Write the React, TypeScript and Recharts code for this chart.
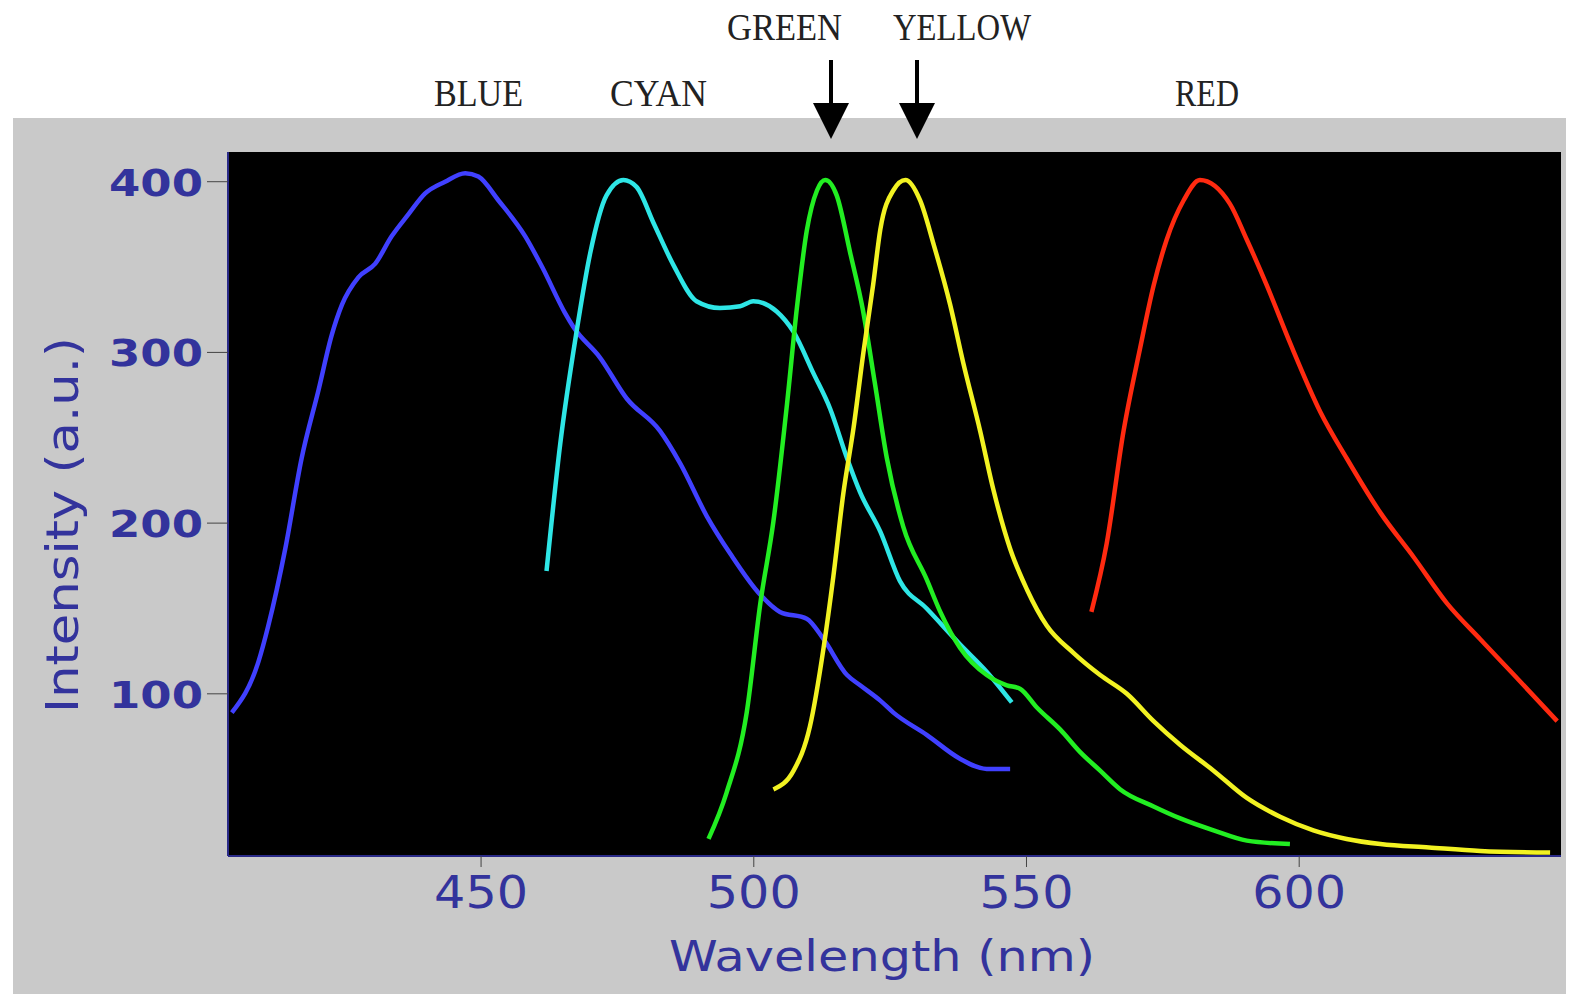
import React from 'react';
import { LineChart, Line, XAxis, YAxis, CartesianGrid } from 'recharts';

// emission spectra (nm, intensity a.u.)
const BLUE_NM = [404.3, 409.2, 411, 414.1, 417.1, 420.2, 422.6, 424.5, 427.5, 430.6, 433.6, 436.7, 439.7, 443.4, 447.1, 449.5, 453.2, 458.1, 461.2, 465.4, 466.9, 471.8, 476.7, 482.8, 486.5, 491.4, 495.7, 501.2, 504.8, 509.7, 512.8, 517.1, 519.5, 523.2, 525.6, 531.7, 537.8, 542.7, 547];
const BLUE_I = [89, 119, 140, 185, 238, 278, 310, 328, 344, 352, 368, 381, 393, 400, 405, 403, 389, 368, 350, 323, 315, 297, 273, 254, 235, 204, 182, 158, 148, 144, 132, 111, 105, 96, 89, 76, 62, 56, 56];

const CYAN_NM = [462, 464.5, 467.5, 470, 473, 476.1, 478.5, 481.6, 485.3, 489.5, 493.8, 497.5, 499.9, 504.2, 507.3, 510.9, 514, 517.1, 519.5, 523.2, 526.8, 531.7, 537.8, 542.7, 547.3];
const CYAN_I = [172, 246, 312, 358, 392, 401, 397, 376, 351, 330, 326, 327, 330, 324, 312, 288, 267, 238, 218, 195, 166, 150, 129, 113, 95];

const GREEN_NM = [491.7, 495, 498.7, 501.2, 503.6, 506.1, 507.9, 509.7, 511.6, 513.1, 515.2, 517.7, 520, 522.2, 524.4, 527.4, 531.7, 534.2, 537.8, 542.7, 546.4, 548.8, 551.9, 556.2, 559.8, 563.5, 567.2, 573.3, 578.2, 584.3, 590.4, 598.3];
const GREEN_I = [15, 42, 89, 153, 201, 270, 326, 371, 395, 401, 392, 358, 325, 282, 238, 198, 167, 148, 127, 111, 105, 103, 92, 79, 66, 55, 44, 34, 27, 20, 14, 12];

const YELLOW_NM = [503.6, 507.3, 510.3, 512.8, 514.6, 516.4, 518.3, 520.1, 521.9, 523.2, 525.6, 527.8, 530.5, 533, 536, 538.4, 541.5, 543.9, 547, 550.1, 553.7, 558.6, 563.5, 568.4, 573.3, 578.2, 584.3, 590.4, 596.5, 602.6, 608.7, 614.9, 623.8, 633.2, 646];
const YELLOW_I = [44, 55, 81, 127, 169, 217, 256, 300, 340, 372, 395, 401, 389, 363, 328, 294, 254, 220, 185, 161, 140, 124, 111, 100, 84, 70, 55, 39, 28, 20, 15, 12, 10, 8, 7];

const RED_NM = [561.9, 564.7, 567.8, 570.8, 573.3, 575.7, 578.8, 581.8, 587.3, 590.4, 594.1, 598.4, 603.9, 608.7, 614.9, 621, 627.1, 633.2, 639.4, 647.3];
const RED_I = [148, 188, 254, 302, 339, 366, 389, 401, 387, 366, 339, 305, 265, 238, 206, 180, 153, 132, 111, 84];

const X_TICKS = [450, 500, 550, 600];
const Y_TICKS = [100, 200, 300, 400];

const toPoints = (nm: number[], v: number[]) => nm.map((x, i) => ({ nm: x, v: v[i] }));

const SERIES = [
  { name: 'BLUE', color: '#4040ff', data: toPoints(BLUE_NM, BLUE_I) },
  { name: 'CYAN', color: '#2ee6e6', data: toPoints(CYAN_NM, CYAN_I) },
  { name: 'GREEN', color: '#22ee22', data: toPoints(GREEN_NM, GREEN_I) },
  { name: 'YELLOW', color: '#f2f222', data: toPoints(YELLOW_NM, YELLOW_I) },
  { name: 'RED', color: '#ff2a10', data: toPoints(RED_NM, RED_I) },
];

const NAVY = '#33339c';

const YTick = (props: any) => {
  const { x, y, payload } = props;
  return (
    <text x={x} y={y + 14} textAnchor="end" fill={NAVY} fontFamily="DejaVu Sans" fontWeight="bold"
      fontSize={38} textLength={94} lengthAdjust="spacingAndGlyphs">
      {payload.value}
    </text>
  );
};

const XTick = (props: any) => {
  const { x, y, payload } = props;
  return (
    <text x={x} y={y + 39} textAnchor="middle" fill={NAVY} fontFamily="DejaVu Sans"
      fontSize={45} textLength={94} lengthAdjust="spacingAndGlyphs">
      {payload.value}
    </text>
  );
};

const Arrow = ({ x }: { x: number }) => (
  <g>
    <line x1={x} y1={60} x2={x} y2={108} stroke="#000" strokeWidth={4} />
    <polygon points={`${x - 18},103 ${x + 18},103 ${x},139`} fill="#000" />
  </g>
);

const topLabel = { fontFamily: 'Liberation Serif', fontSize: 38, fill: '#222' };

export default function App() {
  return (
    <div style={{ position: 'absolute', left: 0, top: 0, width: 1575, height: 994, background: '#fff', overflow: 'hidden' }}>
      <div style={{ position: 'absolute', left: 13, top: 118, width: 1553, height: 876, background: '#c9c9c9' }} />
      <div style={{ position: 'absolute', left: 0, top: 0 }}>
        <LineChart width={1575} height={994} margin={{ top: 152, right: 14, bottom: 0, left: 0 }}>
          <CartesianGrid fill="#000" horizontal={false} vertical={false} />
          <XAxis type="number" dataKey="nm" domain={[403.6, 648]} ticks={X_TICKS} allowDataOverflow
            height={138} tickSize={11} tickMargin={2} tick={<XTick />}
            axisLine={{ stroke: '#2a2a88', strokeWidth: 2 }} tickLine={{ stroke: '#444' }} />
          <YAxis type="number" domain={[5, 417.4]} ticks={Y_TICKS} allowDataOverflow
            width={228} tickSize={21} tickMargin={4} tick={<YTick />}
            axisLine={{ stroke: '#2a2a88', strokeWidth: 2 }} tickLine={{ stroke: '#444' }} />
          {SERIES.map((s) => (
            <Line key={s.name} data={s.data} dataKey="v" type="monotone" stroke={s.color}
              strokeWidth={4.5} dot={false} isAnimationActive={false} />
          ))}
        </LineChart>
      </div>
      <svg width={1575} height={994} style={{ position: 'absolute', left: 0, top: 0, pointerEvents: 'none' }}>
        <text x={434} y={106} textLength={89} lengthAdjust="spacingAndGlyphs" {...topLabel}>BLUE</text>
        <text x={610} y={106} textLength={97} lengthAdjust="spacingAndGlyphs" {...topLabel}>CYAN</text>
        <text x={727} y={40} textLength={115} lengthAdjust="spacingAndGlyphs" {...topLabel}>GREEN</text>
        <text x={893} y={40} textLength={138} lengthAdjust="spacingAndGlyphs" {...topLabel}>YELLOW</text>
        <text x={1175} y={106} textLength={64} lengthAdjust="spacingAndGlyphs" {...topLabel}>RED</text>
        <Arrow x={831} />
        <Arrow x={917} />
        <text transform="translate(78,525) rotate(-90)" textAnchor="middle" fill={NAVY} fontFamily="DejaVu Sans"
          fontSize={45} textLength={376} lengthAdjust="spacingAndGlyphs">Intensity (a.u.)</text>
        <text x={882} y={971} textAnchor="middle" fill={NAVY} fontFamily="DejaVu Sans"
          fontSize={42} textLength={426} lengthAdjust="spacingAndGlyphs">Wavelength (nm)</text>
      </svg>
    </div>
  );
}
